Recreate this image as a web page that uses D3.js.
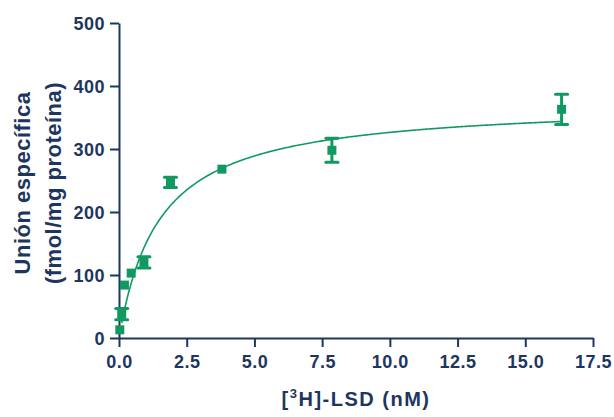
<!DOCTYPE html>
<html>
<head>
<meta charset="utf-8">
<script src="https://cdn.jsdelivr.net/npm/d3@7"></script>
<style>
  body { margin: 0; background: #fff; }
  svg text { font-family: "Liberation Sans", Arial, sans-serif; font-weight: bold; fill: #1d3660; }
</style>
</head>
<body>
<svg id="chart" width="614" height="417"></svg>
<script>
// data
let conc  = [0.03, 0.1, 0.2, 0.45, 0.92, 1.9, 3.8, 7.86, 16.34];
let bound = [13, 38, 84, 103, 120, 247, 268, 298, 363];
let sem   = [0, 9, 0, 0, 9, 8, 0, 19, 24];
let xTicks = [0, 2.5, 5, 7.5, 10, 12.5, 15, 17.5];
let yTicks = [0, 100, 200, 300, 400, 500];

// one-site binding fit: B = Bmax*x/(Kd+x)
let Bmax = 375;
let Kd = 1.49;

let navy = '#1d3660';
let green = '#109a62';

let svg = d3.select('#chart');

let xScale = d3.scaleLinear().domain([0, 17.5]).range([119, 593]);
let yScale = d3.scaleLinear().domain([0, 500]).range([338, 23]);

let xAxis = d3.axisBottom(xScale).tickValues(xTicks).tickFormat(d3.format('.1f')).tickSize(9).tickPadding(8).tickSizeOuter(0);
let yAxis = d3.axisLeft(yScale).tickValues(yTicks).tickSize(9).tickPadding(5).tickSizeOuter(0);

let gx = svg.append('g')
    .attr('transform', 'translate(0,' + yScale(0) + ')')
    .call(xAxis);
let gy = svg.append('g')
    .attr('transform', 'translate(' + xScale(0) + ',0)')
    .call(yAxis);

[gx, gy].forEach(g => {
    g.select('.domain').attr('stroke', navy).attr('stroke-width', 2);
    g.selectAll('.tick line').attr('stroke', navy).attr('stroke-width', 2);
    g.selectAll('.tick text')
        .attr('fill', navy)
        .style('font-size', '18px')
        .style('letter-spacing', '0.5px');
});
gy.selectAll('.tick text').attr('dy', '0.36em');

// fitted curve
let curvePts = d3.range(0.1, 16.35, 0.05).map(x => [x, Bmax * x / (Kd + x)]);
svg.append('path')
    .datum(curvePts)
    .attr('fill', 'none')
    .attr('stroke', green)
    .attr('stroke-width', 1.6)
    .attr('d', d3.line().x(d => xScale(d[0])).y(d => yScale(d[1])));

let pts = conc.map((c, i) => ({x: c, y: bound[i], e: sem[i]}));

// error bars
let eb = svg.selectAll('.err')
    .data(pts.filter(d => d.e > 0))
    .enter().append('g')
    .attr('class', 'err')
    .attr('stroke', green)
    .attr('stroke-width', 3);
eb.append('line')
    .attr('x1', d => xScale(d.x)).attr('x2', d => xScale(d.x))
    .attr('y1', d => yScale(d.y - d.e)).attr('y2', d => yScale(d.y + d.e));
eb.append('line')
    .attr('x1', d => xScale(d.x) - 6).attr('x2', d => xScale(d.x) + 6)
    .attr('y1', d => yScale(d.y + d.e)).attr('y2', d => yScale(d.y + d.e))
    .attr('stroke-linecap', 'round');
eb.append('line')
    .attr('x1', d => xScale(d.x) - 6).attr('x2', d => xScale(d.x) + 6)
    .attr('y1', d => yScale(d.y - d.e)).attr('y2', d => yScale(d.y - d.e))
    .attr('stroke-linecap', 'round');

// square markers
svg.selectAll('.point')
    .data(pts)
    .enter().append('rect')
    .attr('class', 'point')
    .attr('x', d => xScale(d.x) - 4.5)
    .attr('y', d => yScale(d.y) - 4.5)
    .attr('width', 9)
    .attr('height', 9)
    .attr('fill', green);

// axis titles
let xt = svg.append('text')
    .attr('x', 356)
    .attr('y', 406)
    .attr('text-anchor', 'middle')
    .style('font-size', '20px')
    .style('letter-spacing', '1.5px');
xt.append('tspan').text('[');
xt.append('tspan').text('3').attr('dy', -8).style('font-size', '13px');
xt.append('tspan').text('H]-LSD (nM)').attr('dy', 8);

let yt = svg.append('text')
    .attr('transform', 'translate(0,183) rotate(-90)')
    .attr('text-anchor', 'middle')
    .style('font-size', '22px')
    .style('letter-spacing', '0.5px');
yt.append('tspan').attr('x', 0).attr('y', 30).text('Unión específica');
yt.append('tspan').attr('x', 0).attr('y', 61).text('(fmol/mg proteína)');
</script>
</body>
</html>
